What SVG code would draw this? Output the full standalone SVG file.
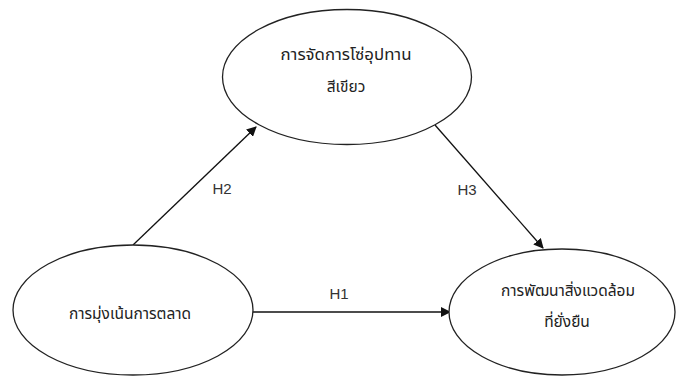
<svg xmlns="http://www.w3.org/2000/svg" width="677" height="376" viewBox="0 0 677 376">
<style>
.node ellipse{fill:#fff;stroke:#222;stroke-width:1.3}
.th{font-family:"Noto Sans Thai","Tahoma","Noto Sans","DejaVu Sans",sans-serif;font-size:15.5px;fill:#222;text-anchor:middle;dominant-baseline:middle}
.lbl{font-family:"Liberation Sans","Noto Sans",sans-serif;font-size:15px;fill:#333;text-anchor:middle;dominant-baseline:middle}
.edge{stroke:#111;stroke-width:1.3;fill:none;marker-end:url(#ah)}
</style>
<defs>
<marker id="ah" viewBox="0 0 10 10" refX="9" refY="5" markerWidth="10" markerHeight="10" markerUnits="userSpaceOnUse" orient="auto">
<path d="M0,0 L10,5 L0,10 z" fill="#111"/>
</marker>
</defs>
<rect width="677" height="376" fill="#fff"/>
<g id="connectors">
<path class="edge" d="M133,245 L256,127"/>
<path class="edge" d="M435,125 L543,248"/>
<path class="edge" d="M253,312 L450,312"/>
<text class="lbl" x="222" y="190">H2</text>
<text class="lbl" x="467" y="191">H3</text>
<text class="lbl" x="339" y="295">H1</text>
</g>
<g id="n-green-supply" class="node">
<ellipse cx="347" cy="77" rx="124.5" ry="67.5"/>
<text class="th" x="346" y="56" textLength="131" lengthAdjust="spacingAndGlyphs">การจัดการโซ่อุปทาน</text>
<text class="th" x="346" y="88">สีเขียว</text>
</g>
<g id="n-market" class="node">
<ellipse cx="133" cy="310" rx="120" ry="65"/>
<text class="th" x="130" y="315">การมุ่งเน้นการตลาด</text>
</g>
<g id="n-sustain" class="node">
<ellipse cx="562" cy="312" rx="113" ry="63"/>
<text class="th" x="568" y="292">การพัฒนาสิ่งแวดล้อม</text>
<text class="th" x="567" y="323">ที่ยั่งยืน</text>
</g>
</svg>
